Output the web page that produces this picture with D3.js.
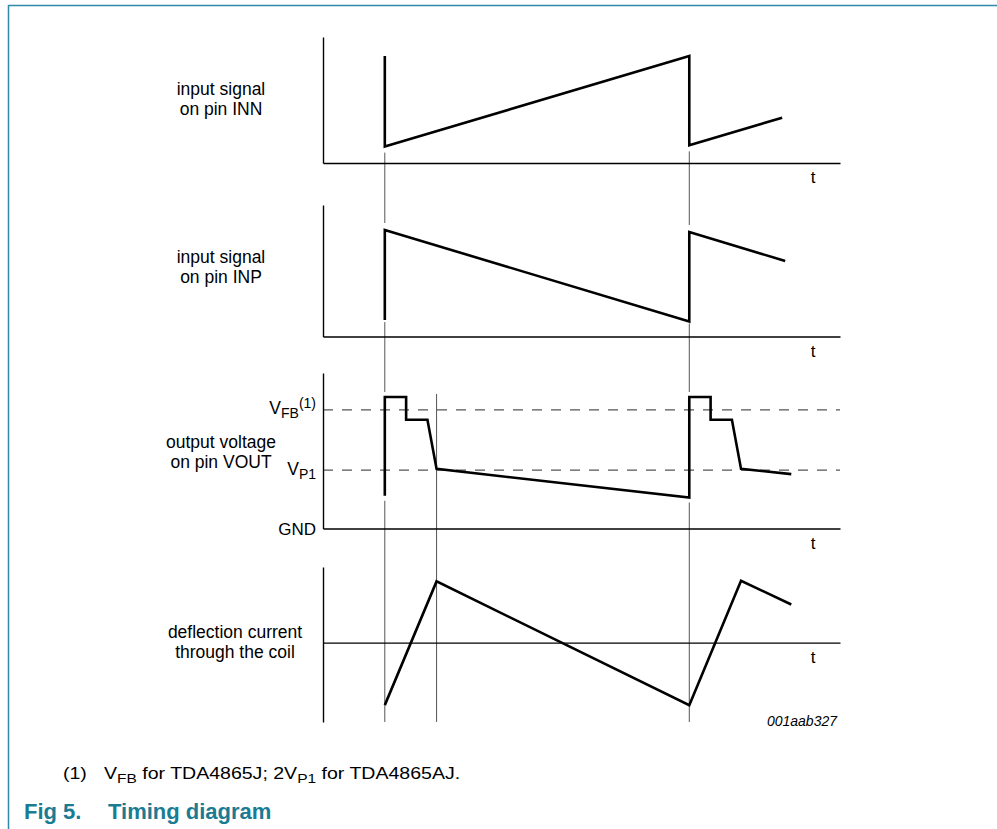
<!DOCTYPE html>
<html>
<head>
<meta charset="utf-8">
<script src="https://cdn.jsdelivr.net/npm/d3@7"></script>
<style>
  html, body { margin: 0; padding: 0; background: #fff; }
  svg text { font-family: "Liberation Sans", Arial, Helvetica, sans-serif; fill: #000; }
</style>
</head>
<body>
<svg id="chart" width="997" height="829"></svg>
<script>
// ---- data (time in arbitrary units; one scan period = 10) ----
const timeDomain = [-2.03, 14.95];

const innT = [0, 0, 10, 10, 13.05];
const innV = [0.85, 0.13, 0.85, 0.14, 0.36];

const inpT = [0, 0, 10, 10, 13.15];
const inpV = [0.125, 0.81, 0.114, 0.795, 0.574];

const voutT = [0, 0, 0.7, 0.7, 1.4, 1.7, 10, 10, 10.7, 10.7, 11.4, 11.7, 13.35];
const voutV = [0.56, 2.25, 2.25, 1.86, 1.86, 1.02, 0.53, 2.25, 2.25, 1.86, 1.86, 1.02, 0.93];
const voutRefLevels = [2.03, 1];

const coilT = [0, 1.7, 10, 11.7, 13.35];
const coilV = [-1, 0.98, -1, 0.99, 0.61];

const flybackT = [0, 10];   // guides through all panels
const retraceEndT = [1.7];  // guide through the lower two panels

const panelLabels = [
  ["input signal", "on pin INN"],
  ["input signal", "on pin INP"],
  ["output voltage", "on pin VOUT"],
  ["deflection current", "through the coil"]
];
const axisLabel = "t";
const figCode = "001aab327";

// ---- layout ----
const svg = d3.select("#chart");
const x = d3.scaleLinear().domain(timeDomain).range([323, 840]);

const panels = [
  { y: d3.scaleLinear().domain([0, 1]).range([163, 37]), zero: 0, t: innT, v: innV },
  { y: d3.scaleLinear().domain([0, 1]).range([336.5, 205]), zero: 0, t: inpT, v: inpV },
  { y: d3.scaleLinear().domain([0, 2.66]).range([528.5, 373]), zero: 0, t: voutT, v: voutV },
  { y: d3.scaleLinear().domain([-1.27, 1.21]).range([722, 567]), zero: 0, t: coilT, v: coilV }
];

// border
const border = "#2f89a9";
svg.append("line").attr("x1", 8.5).attr("x2", 997).attr("y1", 5.5).attr("y2", 5.5)
  .attr("stroke", border).attr("stroke-width", 1.5);
svg.append("line").attr("x1", 8.5).attr("x2", 8.5).attr("y1", 5).attr("y2", 829)
  .attr("stroke", border).attr("stroke-width", 1.5);

// guides
const guideColor = "#555";
const gap = 5;
function valAt(p, t, mode) {
  const vals = p.t.map((tt, i) => tt === t ? p.v[i] : null).filter(v => v !== null);
  return mode === "max" ? d3.max(vals) : d3.min(vals);
}
const guideG = svg.append("g").attr("stroke", guideColor).attr("stroke-width", 1);
flybackT.forEach(t => {
  const segs = [
    [panels[0].y(valAt(panels[0], t, "min")) + gap + 1, panels[1].y(valAt(panels[1], t, "max")) - gap - 2],
    [panels[1].y(valAt(panels[1], t, "min")) + 2, panels[2].y(valAt(panels[2], t, "max")) - gap],
    [panels[2].y(valAt(panels[2], t, "min")) + gap, panels[3].y.range()[0]]
  ];
  segs.forEach(s => guideG.append("line").attr("x1", x(t)).attr("x2", x(t)).attr("y1", s[0]).attr("y2", s[1]));
});
retraceEndT.forEach(t => {
  guideG.append("line").attr("x1", x(t)).attr("x2", x(t))
    .attr("y1", panels[2].y(d3.max(voutV)) - 3).attr("y2", panels[3].y.range()[0]);
});

// reference dashed levels in VOUT panel
voutRefLevels.forEach(v => {
  svg.append("line").attr("x1", x.range()[0]).attr("x2", x.range()[1])
    .attr("y1", panels[2].y(v)).attr("y2", panels[2].y(v))
    .attr("stroke", "#555").attr("stroke-width", 1.2).attr("stroke-dasharray", "10,9");
});

// axes
panels.forEach((p, i) => {
  const gx = svg.append("g").attr("transform", `translate(0,${p.y(p.zero)})`)
    .call(d3.axisBottom(x).tickValues([]).tickSizeOuter(0));
  gx.select(".domain").attr("stroke", "#000").attr("stroke-width", 1.4);
  const gy = svg.append("g").attr("transform", `translate(${x.range()[0]},0)`)
    .call(d3.axisLeft(p.y).tickValues([]).tickSizeOuter(0));
  gy.select(".domain").attr("stroke", "#000").attr("stroke-width", 1.4);
  svg.append("text").attr("x", 813).attr("y", p.y(p.zero) + 20)
    .attr("text-anchor", "middle").style("font-size", "17px").text(axisLabel);
});

// signals
panels.forEach(p => {
  const pts = p.t.map((t, i) => [t, p.v[i]]);
  svg.append("path").datum(pts)
    .attr("d", d3.line().x(d => x(d[0])).y(d => p.y(d[1])))
    .attr("fill", "none").attr("stroke", "#000").attr("stroke-width", 2.6)
    .attr("stroke-linejoin", "miter");
});

// panel labels
const labelCenters = [98.5, 266, 451, 641.5];
const labelX = [221, 221, 221, 235];
panelLabels.forEach((lines, i) => {
  const t = svg.append("text").attr("text-anchor", "middle").style("font-size", "17.5px");
  lines.forEach((ln, j) => {
    t.append("tspan").attr("x", labelX[i]).attr("y", labelCenters[i] - 3.5 + j * 20).text(ln);
  });
});

// VOUT level labels
function vLabel(sub, sup, yBase) {
  const t = svg.append("text").attr("x", 316).attr("y", yBase).attr("text-anchor", "end")
    .style("font-size", "17.5px");
  t.append("tspan").text("V");
  t.append("tspan").attr("dy", 4).style("font-size", "14px").text(sub);
  if (sup) t.append("tspan").attr("dy", -10).style("font-size", "14px").text(sup);
}
vLabel("FB", "(1)", panels[2].y(voutRefLevels[0]) + 4);
vLabel("P1", null, panels[2].y(voutRefLevels[1]) + 5);
svg.append("text").attr("x", 316).attr("y", panels[2].y(0) + 6).attr("text-anchor", "end")
  .style("font-size", "17px").text("GND");

// figure code
svg.append("text").attr("x", 837).attr("y", 726).attr("text-anchor", "end")
  .style("font-size", "14px").style("font-style", "italic").text(figCode);

// footnote (glyphs are slightly wider in the original typesetting)
const fsx = 1.15;
const fn = svg.append("text").attr("transform", `translate(63,779) scale(${fsx},1)`)
  .style("font-size", "17px");
fn.append("tspan").attr("x", 0).text("(1)");
fn.append("tspan").attr("x", (104 - 63) / fsx).text("V");
fn.append("tspan").attr("dy", 4).style("font-size", "13.5px").text("FB");
fn.append("tspan").attr("dy", -4).text(" for TDA4865J; 2V");
fn.append("tspan").attr("dy", 4).style("font-size", "13.5px").text("P1");
fn.append("tspan").attr("dy", -4).text(" for TDA4865AJ.");

// title
const title = svg.append("text").attr("y", 819).style("font-size", "22px").style("font-weight", "bold");
title.append("tspan").attr("x", 24).style("fill", "#1b7b93").text("Fig 5.");
title.append("tspan").attr("x", 108).style("fill", "#1b7b93").text("Timing diagram");
</script>
</body>
</html>
